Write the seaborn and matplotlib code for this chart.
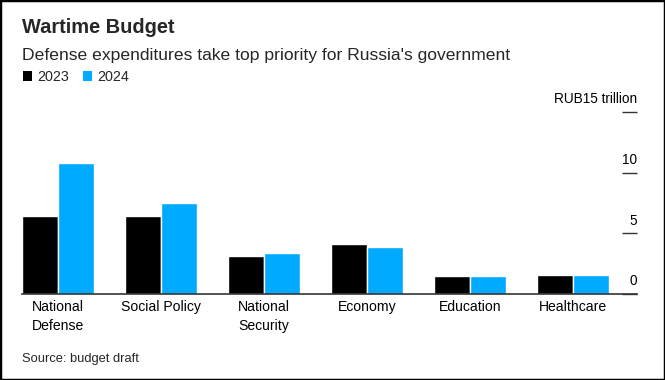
import pandas as pd
import matplotlib
matplotlib.use("Agg")
import matplotlib.pyplot as plt
from matplotlib.patches import Rectangle
import seaborn as sns

# values, RUB trillion
categories = ["National\nDefense", "Social Policy", "National\nSecurity",
              "Economy", "Education", "Healthcare"]
years = ["2023", "2024"]
values_2023 = [6.4, 6.4, 3.1, 4.1, 1.5, 1.6]
values_2024 = [10.8, 7.5, 3.4, 3.9, 1.5, 1.6]
y_ticks = [0, 5, 10, 15]
y_tick_labels = ["0", "5", "10", "RUB15 trillion"]

colors = {"2023": "#000000", "2024": "#00AAFF"}

df = pd.DataFrame({
    "category": categories * 2,
    "year": [years[0]] * len(categories) + [years[1]] * len(categories),
    "value": values_2023 + values_2024,
})

sns.set_style("white")
plt.rcParams["font.family"] = ["Liberation Sans", "DejaVu Sans"]

fig = plt.figure(figsize=(6.65, 3.8), dpi=100)
ax = fig.add_axes([22 / 665, 1 - 294 / 380, (637 - 22) / 665, (294 - 112) / 380])

sns.barplot(data=df, x="category", y="value", hue="year", order=categories,
            hue_order=years, palette=colors, width=0.7, gap=0,
            saturation=1, errorbar=None, ax=ax, legend=True)

ax.set_xlim(-0.35, 5.62)
ax.set_ylim(0, 15)
ax.set_xlabel("")
ax.set_ylabel("")

for side in ["top", "left", "right"]:
    ax.spines[side].set_visible(False)
ax.spines["bottom"].set_color("#333333")
ax.spines["bottom"].set_linewidth(1.2)

# category labels
ax.tick_params(axis="x", length=0, pad=4, labelsize=10.1, colors="#000000")
for lbl in ax.get_xticklabels():
    lbl.set_multialignment("left")
    lbl.set_linespacing(1.45)

# value axis on the right: short tick marks, labels sitting above them
ax.yaxis.tick_right()
ax.set_yticks(y_ticks)
ax.tick_params(axis="y", direction="in", length=10.8, width=1, color="#333333",
               labelright=False, labelleft=False)
for v, t in zip(y_ticks, y_tick_labels):
    ax.annotate(t, xy=(1, v), xycoords=("axes fraction", "data"),
                xytext=(0, 6.2), textcoords="offset points",
                ha="right", va="baseline", fontsize=9.8, color="#000000")

# legend
leg = ax.legend(ncol=2, loc="lower left", bbox_to_anchor=(23 / 665, 1 - 84 / 380),
                bbox_transform=fig.transFigure, frameon=False, fontsize=10.4,
                handlelength=0.62, handleheight=0.62, handletextpad=0.38,
                columnspacing=0.95, borderpad=0, borderaxespad=0)
for h in leg.legend_handles:
    h.set_edgecolor("none")

fig.text(22 / 665, 1 - 33.3 / 380, "Wartime Budget", fontsize=14.4,
         fontweight="bold", va="baseline", ha="left")
fig.text(22 / 665, 1 - 60 / 380,
         "Defense expenditures take top priority for Russia's government",
         fontsize=12.6, va="baseline", ha="left")
fig.text(22 / 665, 1 - 362.3 / 380, "Source: budget draft", fontsize=9.3,
         va="baseline", ha="left")

# frame around the whole graphic
fig.patches.append(Rectangle((0, 0), 1, 1, transform=fig.transFigure,
                             fill=False, edgecolor="#000000", linewidth=2.5))

fig.savefig("out.png", dpi=100)
